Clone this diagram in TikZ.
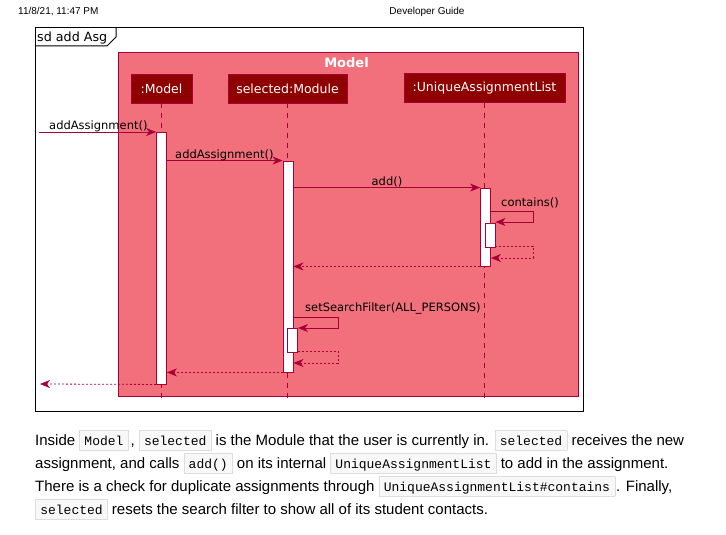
\documentclass[tikz,border=0pt]{standalone}
\usepackage{fontspec}
\setmainfont{Liberation Sans}
\newfontfamily\umlfont{DejaVu Sans}
\newfontfamily\codefont{Liberation Mono}
\usetikzlibrary{arrows.meta}
\definecolor{umlred}{HTML}{A80036}
\definecolor{pinkfill}{HTML}{F1707B}
\definecolor{partfill}{HTML}{8F0000}
\definecolor{codebg}{HTML}{F8F8F8}
\definecolor{codeborder}{HTML}{DDDDDD}
\newcommand\cd[1]{{\setlength\fboxsep{0pt}\setlength\fboxrule{0.6pt}\fcolorbox{codeborder}{codebg}{\rule[-5pt]{0pt}{19pt}\hspace{4.5pt}{\codefont\fontsize{13}{14}\selectfont #1}\hspace{4.5pt}}}}
\tikzset{
 part/.style={draw=umlred, fill=partfill, text=white, font=\umlfont\fontsize{12.5}{14}\selectfont, minimum height=29pt, inner sep=0pt},
 actbar/.style={draw=umlred, fill=white, line width=0.9pt, minimum width=10pt, inner sep=0pt},
 lifeline/.style={umlred, line width=0.8pt, dash pattern=on 5pt off 5pt},
 msg/.style={umlred, line width=0.8pt, -{Stealth[length=10pt,width=8pt,inset=3pt]}},
 ret/.style={msg, dash pattern=on 2pt off 2pt},
 msglabel/.style={font=\umlfont\fontsize{11.5}{13}\selectfont, inner sep=0pt, text=black},
 paraline/.style={anchor=base west, inner sep=0pt, font=\fontsize{15}{17}\selectfont},
 header/.style={font=\fontsize{10}{12}\selectfont, inner sep=0pt},
}
\begin{document}
\begin{tikzpicture}[x=1pt,y=-1pt]
\useasboundingbox (0,0) rectangle (726,535);
\fill[white] (0,0) rectangle (726,535);
% header
\node[header, anchor=west] (date) at (18,12) {11/8/21, 11:47 PM};
\node[header] (doctitle) at (427,12) {Developer Guide};
% frame
\draw[black, line width=1pt] (35,28) rectangle (583,411);
\draw[black, line width=1pt] (35,46) -- (107,46) -- (116,37) -- (116,28);
\node[anchor=west, inner sep=0pt, font=\umlfont\fontsize{12.7}{14}\selectfont] (sdlabel) at (37,37.5) {sd add Asg};
% Model box
\filldraw[fill=pinkfill, draw=umlred, line width=1pt] (118,53) rectangle (578,396);
\node[text=white, font=\umlfont\bfseries\fontsize{13}{15}\selectfont, inner sep=0pt] (modeltitle) at (346.5,62.5) {Model};
% participants
\node[part, minimum width=61pt] (pModel) at (161.5,88.5) {:Model};
\node[part, minimum width=119pt] (pSel) at (287.5,88.5) {selected:Module};
\node[part, minimum width=161pt] (pUAL) at (484.5,88) {:UniqueAssignmentList};
% lifelines
\coordinate (llend) at (0,400);
\draw[lifeline] (pModel.south) -- (pModel.south |- llend);
\draw[lifeline] (pSel.south) -- (pSel.south |- llend);
\draw[lifeline] (pUAL.south) -- (pUAL.south |- llend);
% activations
\node[actbar, minimum height=252pt] (actA) at (161.5,258) {};
\node[actbar, minimum height=211pt] (actB) at (288,266.5) {};
\node[actbar, minimum height=78pt] (actC) at (485.5,227) {};
\node[actbar, minimum height=24pt] (actD) at (490,235) {};
\node[actbar, minimum height=24pt] (actE) at (292.5,340) {};
% messages
\coordinate (in1) at (39,132);
\draw[msg] (in1) -- (in1 -| actA.west);
\node[msglabel, anchor=base west] (l1) at (49,129) {addAssignment()};
\draw[msg] (actA.east |- actB.north) -- (actB.north west);
\node[msglabel, anchor=base west] (l2) at (175,158) {addAssignment()};
\draw[msg] (actB.east |- actC.north) -- (actC.north west);
\node[msglabel, anchor=base] (l3) at (387,185) {add()};
\coordinate (c4) at (533,211);
\coordinate (c4b) at (533,222);
\draw[msg] (c4 -| actC.east) -- (c4) -- (c4b) -- (c4b -| actD.east);
\node[msglabel, anchor=base west] (l4) at (501,206) {contains()};
\coordinate (c5) at (533,246);
\coordinate (c5b) at (533,258);
\draw[ret] (c5 -| actD.east) -- (c5) -- (c5b) -- (c5b -| actC.east);
\draw[ret] (actC.south west) -- (actC.south west -| actB.east);
\coordinate (c7) at (338,317);
\coordinate (c7b) at (338,328);
\draw[msg] (c7 -| actB.east) -- (c7) -- (c7b) -- (c7b -| actE.east);
\node[msglabel, anchor=base west] (l7) at (305,311) {setSearchFilter(ALL\_PERSONS)};
\coordinate (c8) at (338,351);
\coordinate (c8b) at (338,363);
\draw[ret] (c8 -| actE.east) -- (c8) -- (c8b) -- (c8b -| actB.east);
\draw[ret] (actB.south west) -- (actB.south west -| actA.east);
\coordinate (out1) at (40,384);
\draw[ret] (actA.south west) -- (out1);
% paragraph
\node[paraline] (p1) at (35,445) {Inside \cd{Model}\hspace{2pt}, \cd{selected} is the Module that the user is currently in. \cd{selected} receives the new};
\node[paraline] (p2) at (35,468) {assignment, and calls \cd{add()} on its internal \cd{UniqueAssignmentList} to add in the assignment.};
\node[paraline] (p3) at (35,491) {There is a check for duplicate assignments through \cd{UniqueAssignmentList\#contains}\hspace{1pt}. Finally,};
\node[paraline] (p4) at (35,514) {\cd{selected} resets the search filter to show all of its student contacts.};
\end{tikzpicture}
\end{document}
